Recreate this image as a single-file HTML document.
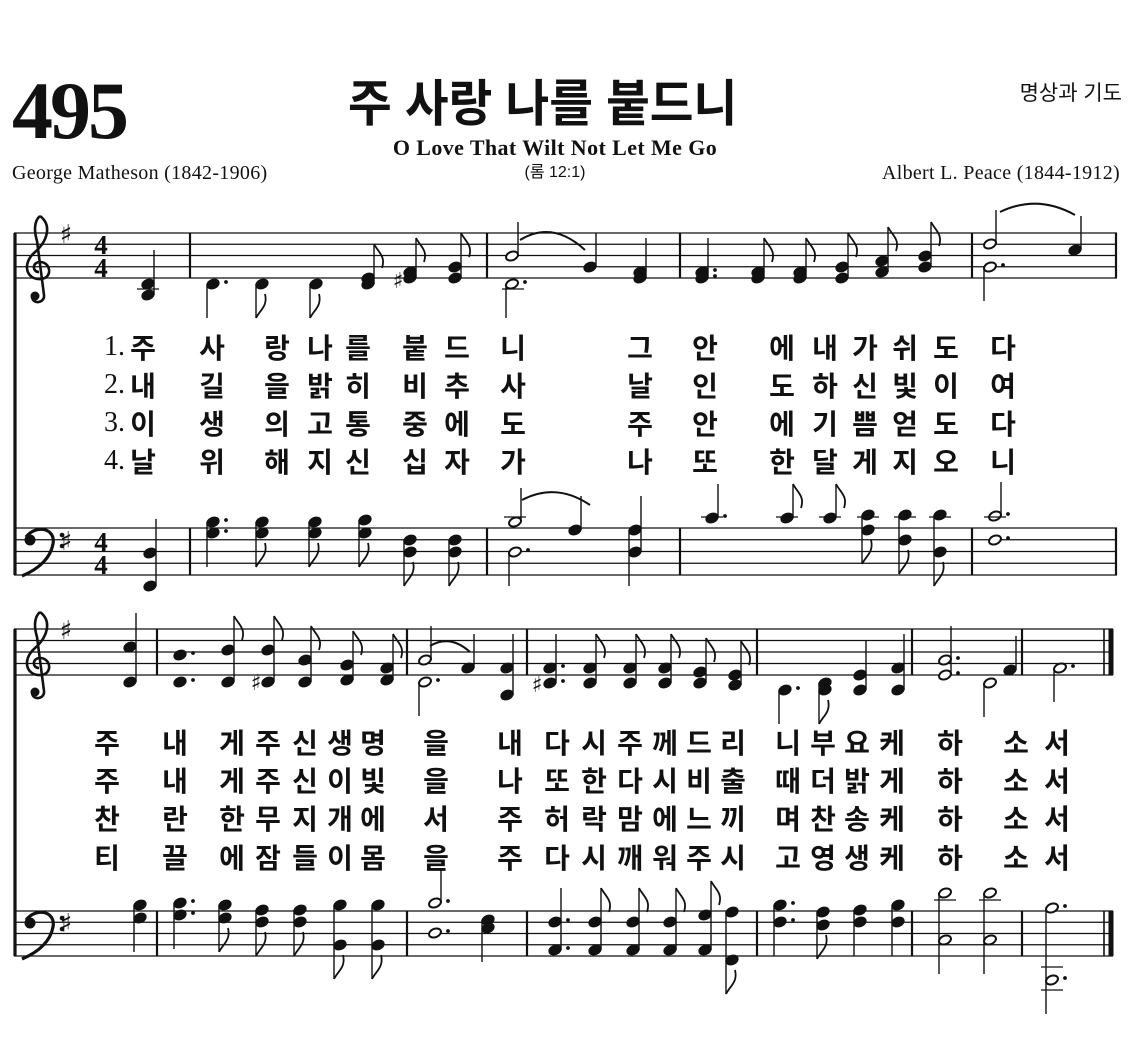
<!DOCTYPE html>
<html><head><meta charset="utf-8">
<style>
html,body{margin:0;padding:0;background:#fff;}
body{width:1130px;height:1060px;position:relative;overflow:hidden;font-family:"Liberation Serif",serif;color:#111;}
.abs{position:absolute;white-space:nowrap;}
.ko{font-family:"Liberation Sans","Noto Sans CJK KR",sans-serif;}
.row{position:absolute;left:0;top:0;width:1130px;height:32px;font-family:"Noto Sans CJK KR","NanumGothic",sans-serif;font-weight:bold;font-size:28px;line-height:32px;}
.row i{font-style:normal;position:absolute;width:44px;margin-left:-22px;text-align:center;top:0;}
.row b.n{position:absolute;right:1005px;top:0;font-family:"Liberation Serif",serif;font-weight:normal;font-size:28px;}
.s1 i:nth-of-type(1){left:143px}.s1 i:nth-of-type(2){left:212px}.s1 i:nth-of-type(3){left:277px}.s1 i:nth-of-type(4){left:320px}
.s1 i:nth-of-type(5){left:358px}.s1 i:nth-of-type(6){left:415px}.s1 i:nth-of-type(7){left:457px}.s1 i:nth-of-type(8){left:513px}
.s1 i:nth-of-type(9){left:640px}.s1 i:nth-of-type(10){left:705px}.s1 i:nth-of-type(11){left:782px}.s1 i:nth-of-type(12){left:825px}
.s1 i:nth-of-type(13){left:865px}.s1 i:nth-of-type(14){left:905px}.s1 i:nth-of-type(15){left:946px}.s1 i:nth-of-type(16){left:1003px}
.s2 i:nth-of-type(1){left:107px}.s2 i:nth-of-type(2){left:175px}.s2 i:nth-of-type(3){left:232px}.s2 i:nth-of-type(4){left:268px}
.s2 i:nth-of-type(5){left:305px}.s2 i:nth-of-type(6){left:340px}.s2 i:nth-of-type(7){left:373px}.s2 i:nth-of-type(8){left:436px}
.s2 i:nth-of-type(9){left:510px}.s2 i:nth-of-type(10){left:557px}.s2 i:nth-of-type(11){left:594px}.s2 i:nth-of-type(12){left:630px}
.s2 i:nth-of-type(13){left:665px}.s2 i:nth-of-type(14){left:699px}.s2 i:nth-of-type(15){left:733px}.s2 i:nth-of-type(16){left:788px}
.s2 i:nth-of-type(17){left:823px}.s2 i:nth-of-type(18){left:857px}.s2 i:nth-of-type(19){left:892px}.s2 i:nth-of-type(20){left:950px}
.s2 i:nth-of-type(21){left:1016px}.s2 i:nth-of-type(22){left:1057px}
</style></head><body>

<div class="abs" style="left:12px;top:66px;font-size:82px;font-weight:bold;line-height:90px;letter-spacing:-3px;">495</div>
<div class="abs ko" style="left:348px;top:72px;font-size:50px;line-height:64px;font-weight:bold;transform:scaleX(0.95);transform-origin:left top;">주 사랑 나를 붙드니</div>
<div class="abs" style="left:555px;top:135px;transform:translateX(-50%);font-size:22px;font-weight:bold;line-height:26px;letter-spacing:0.4px;">O Love That Wilt Not Let Me Go</div>
<div class="abs ko" style="left:555px;top:162px;transform:translateX(-50%);font-size:16px;line-height:22px;">(롬 12:1)</div>
<div class="abs" style="left:12px;top:161px;font-size:20px;line-height:24px;letter-spacing:0.3px;">George Matheson (1842-1906)</div>
<div class="abs" style="right:10px;top:161px;font-size:20px;line-height:24px;letter-spacing:0.3px;">Albert L. Peace (1844-1912)</div>
<div class="abs ko" style="right:8px;top:80px;font-size:21px;line-height:28px;">명상과 기도</div>

<div class="row s1" style="top:331px"><b class="n">1.</b><i>주</i><i>사</i><i>랑</i><i>나</i><i>를</i><i>붙</i><i>드</i><i>니</i><i>그</i><i>안</i><i>에</i><i>내</i><i>가</i><i>쉬</i><i>도</i><i>다</i></div>
<div class="row s1" style="top:369px"><b class="n">2.</b><i>내</i><i>길</i><i>을</i><i>밝</i><i>히</i><i>비</i><i>추</i><i>사</i><i>날</i><i>인</i><i>도</i><i>하</i><i>신</i><i>빛</i><i>이</i><i>여</i></div>
<div class="row s1" style="top:407px"><b class="n">3.</b><i>이</i><i>생</i><i>의</i><i>고</i><i>통</i><i>중</i><i>에</i><i>도</i><i>주</i><i>안</i><i>에</i><i>기</i><i>쁨</i><i>얻</i><i>도</i><i>다</i></div>
<div class="row s1" style="top:445px"><b class="n">4.</b><i>날</i><i>위</i><i>해</i><i>지</i><i>신</i><i>십</i><i>자</i><i>가</i><i>나</i><i>또</i><i>한</i><i>달</i><i>게</i><i>지</i><i>오</i><i>니</i></div>

<div class="row s2" style="top:726px"><i>주</i><i>내</i><i>게</i><i>주</i><i>신</i><i>생</i><i>명</i><i>을</i><i>내</i><i>다</i><i>시</i><i>주</i><i>께</i><i>드</i><i>리</i><i>니</i><i>부</i><i>요</i><i>케</i><i>하</i><i>소</i><i>서</i></div>
<div class="row s2" style="top:764px"><i>주</i><i>내</i><i>게</i><i>주</i><i>신</i><i>이</i><i>빛</i><i>을</i><i>나</i><i>또</i><i>한</i><i>다</i><i>시</i><i>비</i><i>출</i><i>때</i><i>더</i><i>밝</i><i>게</i><i>하</i><i>소</i><i>서</i></div>
<div class="row s2" style="top:802px"><i>찬</i><i>란</i><i>한</i><i>무</i><i>지</i><i>개</i><i>에</i><i>서</i><i>주</i><i>허</i><i>락</i><i>맘</i><i>에</i><i>느</i><i>끼</i><i>며</i><i>찬</i><i>송</i><i>케</i><i>하</i><i>소</i><i>서</i></div>
<div class="row s2" style="top:841px"><i>티</i><i>끌</i><i>에</i><i>잠</i><i>들</i><i>이</i><i>몸</i><i>을</i><i>주</i><i>다</i><i>시</i><i>깨</i><i>워</i><i>주</i><i>시</i><i>고</i><i>영</i><i>생</i><i>케</i><i>하</i><i>소</i><i>서</i></div>

<svg id="mus" class="abs" style="left:0;top:0" width="1130" height="1060" viewBox="0 0 1130 1060" xmlns="http://www.w3.org/2000/svg">
<g font-family="Liberation Serif,serif" font-weight="bold" font-size="27" text-anchor="middle" fill="#111">
<text x="101" y="254">4</text><text x="101" y="277">4</text>
<text x="101" y="551">4</text><text x="101" y="574">4</text>
</g>
<g font-family="DejaVu Sans,sans-serif" font-size="26" fill="#111" text-anchor="middle">
<text x="66" y="243">♯</text><text x="66" y="550">♯</text>
<text x="66" y="639">♯</text><text x="66" y="932">♯</text>
</g>
<g font-family="DejaVu Sans,sans-serif" font-size="22" fill="#111" text-anchor="middle">
<text x="398" y="288">♯</text><text x="256" y="690">♯</text><text x="537" y="692">♯</text>
</g>
</svg>

<script>
(function(){
var svg=document.getElementById('mus');var out='';
function L(x1,y1,x2,y2,w){out+='<line x1="'+x1+'" y1="'+y1+'" x2="'+x2+'" y2="'+y2+'" stroke="#111" stroke-width="'+(w||1.3)+'"/>';}
function staff(x1,x2,top,sp){for(var i=0;i<5;i++)L(x1,top+i*sp,x2,top+i*sp,1.3);}
staff(14,1117,233,11.25);staff(14,1117,528,11.75);
staff(14,1113,629,11.5);staff(14,1113,911,11.25);
L(15,233,15,575,3.2);L(15,629,15,956,3.2);
[190,487,680,972].forEach(function(x){L(x,233,x,278,2.2);L(x,528,x,575,2.2);});
L(1116,233,1116,278,2.2);L(1116,528,1116,575,2.2);
[157,407,527,757,912,1022].forEach(function(x){L(x,629,x,675,2.2);L(x,911,x,956,2.2);});
L(1104,629,1104,675,1.6);L(1104,911,1104,956,1.6);L(1111,629,1111,675,5);L(1111,911,1111,956,5);
function treble(t){out+='<path d="M40 '+(t-17)+' C52 '+(t-8)+' 48 '+(t+8)+' 34 '+(t+20)+' C22 '+(t+31)+' 26 '+(t+47)+' 41 '+(t+46)+' C53 '+(t+45)+' 51 '+(t+29)+' 40 '+(t+29)+' C32 '+(t+29)+' 32 '+(t+39)+' 39 '+(t+39)+' M40 '+(t-17)+' C34 '+(t-12)+' 34 '+(t-2)+' 37 '+(t+8)+' L44 '+(t+62)+' C45 '+(t+70)+' 33 '+(t+72)+' 32 '+(t+64)+'" stroke="#111" stroke-width="2.6" fill="none"/><circle cx="35" cy="'+(t+63)+'" r="4.5" fill="#111"/>';}
function bass(t){out+='<circle cx="30" cy="'+(t+12)+'" r="5.5" fill="#111"/><path d="M26 '+(t+9)+' C36 '+(t-4)+' 56 '+(t)+' 53 '+(t+16)+' C50 '+(t+32)+' 36 '+(t+42)+' 22 '+(t+48)+'" stroke="#111" stroke-width="3.2" fill="none"/><circle cx="62" cy="'+(t+7)+'" r="2.3" fill="#111"/><circle cx="62" cy="'+(t+18)+'" r="2.3" fill="#111"/>';}
treble(233);bass(528);treble(629);bass(911);
function note(x,ys,f){
 var open=f.indexOf('o')>=0,dot=f.indexOf('d')>=0,up=f.indexOf('u')>=0,dn=f.indexOf('w')>=0,e=f.indexOf('e')>=0;
 ys.forEach(function(y){
  out+='<ellipse cx="'+x+'" cy="'+y+'" rx="'+(open?6.2:6.6)+'" ry="'+(open?4.2:4.9)+'" transform="rotate(-22 '+x+' '+y+')" fill="'+(open?'#fff':'#111')+'" stroke="#111" stroke-width="'+(open?2:0.5)+'"/>';
  if(dot)out+='<circle cx="'+(x+13)+'" cy="'+(y-2)+'" r="1.9" fill="#111"/>';
 });
 var mn=Math.min.apply(null,ys),mx=Math.max.apply(null,ys);
 if(up){L(x+6,mx,x+6,mn-34,1.4);if(e)out+='<path d="M'+(x+6)+' '+(mn-34)+' C'+(x+10)+' '+(mn-26)+' '+(x+18)+' '+(mn-22)+' '+(x+14)+' '+(mn-10)+'" stroke="#111" stroke-width="1.8" fill="none"/>';}
 if(dn){L(x-6,mn,x-6,mx+34,1.4);if(e&&!up)out+='<path d="M'+(x-6)+' '+(mx+34)+' C'+(x-2)+' '+(mx+26)+' '+(x+6)+' '+(mx+22)+' '+(x+3)+' '+(mx+10)+'" stroke="#111" stroke-width="1.8" fill="none"/>';}
}
var N=[
[148,[284,295],"u"],[213,[284],"dw"],[262,[284],"we"],[316,[284],"we"],[368,[278,284],"ue"],[410,[272,278],"ue"],[455,[267,278],"ue"],
[512,[256],"ou"],[512,[284],"odw"],[590,[267],"u"],[640,[272,278],"u"],
[702,[272,278],"du"],[758,[272,278],"ue"],[800,[272,278],"ue"],[842,[267,278],"ue"],[882,[261,272],"ue"],[925,[256,267],"ue"],
[990,[244],"ou"],[990,[267],"odw"],[1075,[250],"u"],
[150,[553,586],"u"],[213,[522,533],"dw"],[262,[522,533],"we"],[315,[522,533],"we"],[365,[520,533],"we"],[410,[540,552],"we"],[455,[540,552],"we"],
[515,[522],"ou"],[515,[552],"odw"],[575,[530],"u"],[635,[530,552],"uw"],
[712,[518],"du"],[787,[518],"ue"],[830,[518],"ue"],[868,[515,530],"we"],[905,[515,540],"we"],[940,[515,552],"we"],
[995,[516],"odu"],[995,[540],"od"],
[130,[647,682],"u"],[180,[655,682],"d"],[228,[650,682],"ue"],[268,[650,682],"ue"],[305,[660,682],"ue"],[347,[665,680],"ue"],[387,[668,680],"ue"],
[425,[660],"ou"],[425,[682],"odw"],[468,[668],"u"],[507,[668,695],"u"],
[550,[668,683],"du"],[590,[668,683],"ue"],[630,[668,683],"ue"],[665,[668,683],"ue"],[700,[672,683],"ue"],[735,[675,685],"ue"],
[785,[690],"dw"],[825,[683,690],"we"],[860,[675,690],"u"],[898,[668,690],"u"],
[945,[660,675],"odu"],[990,[683],"ow"],[1010,[670],"u"],[1060,[668],"odw"],
[140,[905,918],"w"],[180,[903,915],"dw"],[225,[905,918],"we"],[262,[910,922],"we"],[300,[910,922],"we"],[340,[905,945],"we"],[378,[905,945],"we"],
[435,[903],"odu"],[435,[933],"od"],[488,[920,928],"w"],
[555,[922,950],"du"],[595,[922,950],"ue"],[633,[922,950],"ue"],[670,[922,950],"ue"],[705,[915,950],"ue"],[732,[912,960],"we"],
[780,[905,922],"dw"],[823,[912,925],"we"],[860,[910,922],"w"],[898,[905,922],"w"],
[945,[893,940],"ow"],[990,[893,940],"ow"],[1052,[908,980],"odw"]
];
N.forEach(function(n){note(n[0],n[1],n[2]);});
[[148,289],[513,289],[1052,990],[1052,967],[945,900],[990,900],[712,517],[787,517],[830,517],[868,517],[905,517],[940,517],[995,517],[515,517]].forEach(function(p){L(p[0]-11,p[1],p[0]+11,p[1],1.2);});
function slur(x1,y1,x2,y2,h){out+='<path d="M'+x1+' '+y1+' Q'+((x1+x2)/2)+' '+(Math.min(y1,y2)-h)+' '+x2+' '+y2+'" stroke="#111" stroke-width="2" fill="none"/>';}
slur(520,240,585,250,20);slur(1000,212,1075,215,18);slur(522,500,590,505,18);slur(430,646,470,652,12);
svg.insertAdjacentHTML('beforeend',out);
})();
</script>
</body></html>
